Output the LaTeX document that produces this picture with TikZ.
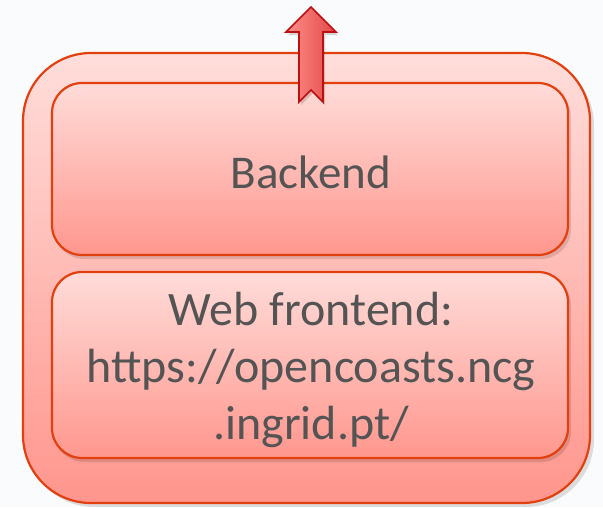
\documentclass[tikz,border=0pt]{standalone}
\usepackage{fontspec}
\setmainfont{Carlito}
\usetikzlibrary{calc}
\definecolor{bg}{HTML}{FAFBFD}
\definecolor{edge}{HTML}{E2400F}
\definecolor{txt}{HTML}{545454}
\definecolor{outtop}{HTML}{FFDEDB}
\definecolor{outbot}{HTML}{FF968D}
\definecolor{intop}{HTML}{FFDCD9}
\definecolor{inbot}{HTML}{FF978E}
\definecolor{arrl}{HTML}{FF8F8A}
\definecolor{arrr}{HTML}{E04848}
\definecolor{arredge}{HTML}{BE1010}
\tikzset{
  outerbox/.style={draw=edge, line width=2.2pt, rounded corners=68pt,
    top color=outtop, bottom color=outbot, minimum width=567pt, minimum height=450pt,
    inner sep=0pt},
  innerbox/.style={draw=edge, line width=2.2pt, rounded corners=30pt,
    top color=intop, bottom color=inbot, minimum width=516pt,
    inner sep=0pt, text=txt, align=center, font=\fontsize{48}{57}\selectfont},
  shadowbox/.style={fill=black, opacity=0.12, draw=none},
  upstyle/.style={draw=arredge, line width=1.6pt, line join=miter, left color=arrl, right color=arrr},
}
\begin{document}
\begin{tikzpicture}[x=1pt,y=-1pt]
\useasboundingbox (0,0) rectangle (603,507);
\fill[bg] (0,0) rectangle (603,507);
% shadows
\fill[shadowbox, rounded corners=68pt] (26,57) rectangle (594,507);
\node[outerbox] (outer) at (306.5,278) {};
\fill[shadowbox, rounded corners=30pt] (54,86) rectangle (571,259);
\fill[shadowbox, rounded corners=30pt] (54,275) rectangle (571,462);
\node[innerbox, minimum height=172pt] (backend) at (310,169) {};
\node[text=txt, font=\fontsize{47}{57}\selectfont] (backendtxt) at (311,172) {Backend};
\node[innerbox, minimum height=186pt] (frontend) at (310,365) {};
\node[text=txt, align=center, font=\fontsize{48}{57}\selectfont] (fronttxt) at (311,370) {Web frontend:\\https://opencoasts.ncg\\.ingrid.pt/};
% arrow
\coordinate (tip) at (311,7);
\fill[black, opacity=0.15] ($(tip)+(2,3)$) -- (338,35) -- (325,35) -- (325,105) -- (313,93) -- (301,105) -- (301,35) -- (288,35) -- cycle;
\path[upstyle] (tip) -- (336,32) -- (323,32) -- (323,102) -- (311,90) -- (299,102) -- (299,32) -- (286,32) -- cycle;
\end{tikzpicture}
\end{document}
